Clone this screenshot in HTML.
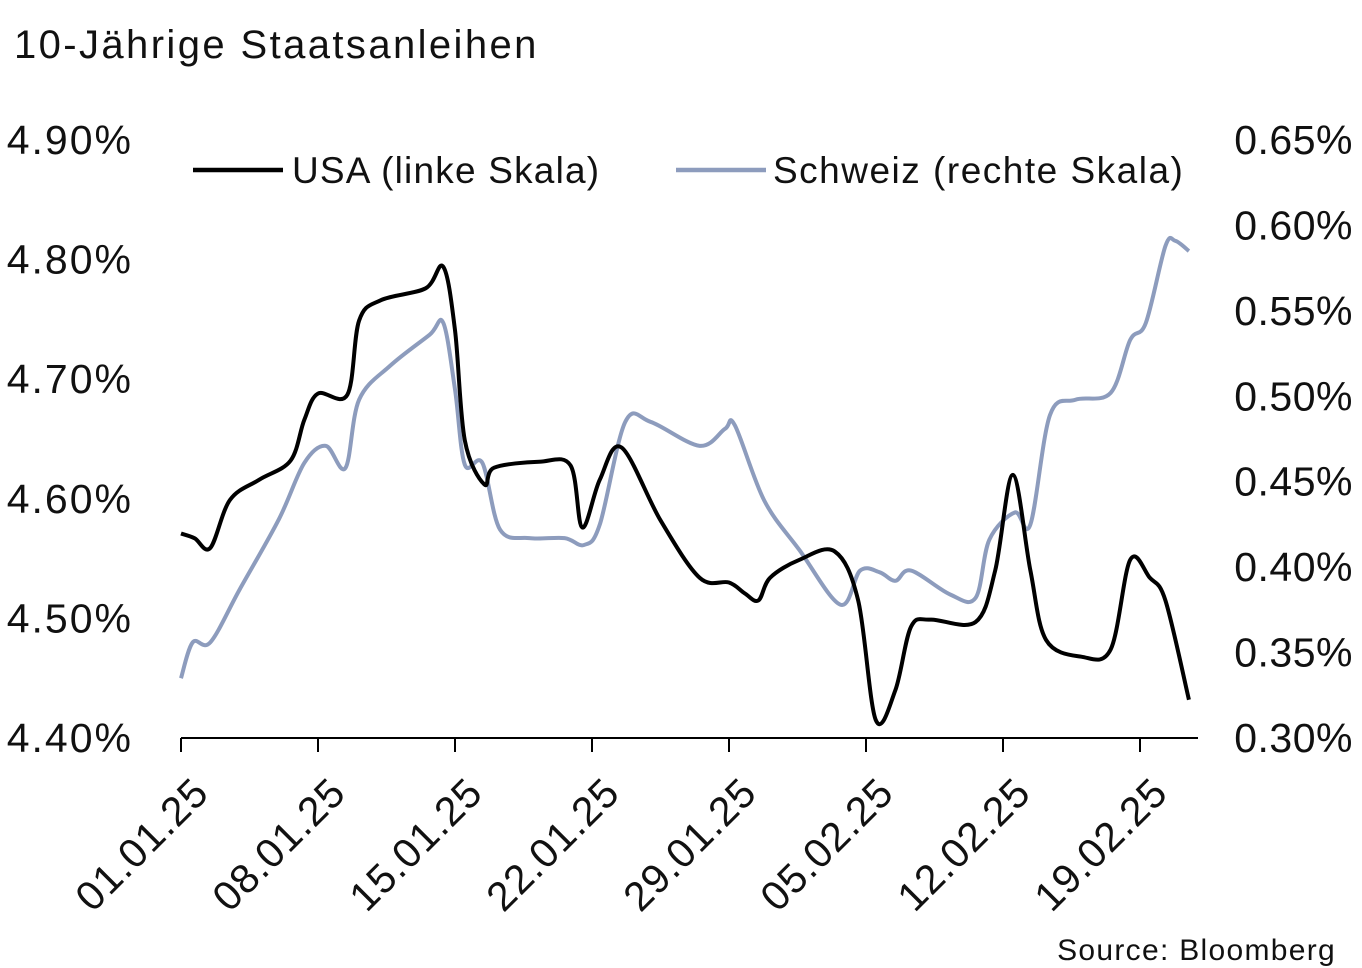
<!DOCTYPE html>
<html><head><meta charset="utf-8"><style>
html,body{margin:0;padding:0;background:#fff;}
svg{display:block;font-family:"Liberation Sans",sans-serif;}
</style></head><body>
<svg id="chart" width="1362" height="968" viewBox="0 0 1362 968">
<text x="14" y="58" font-size="40" letter-spacing="2.4" fill="#111">10-Jährige Staatsanleihen</text>
<g id="leftTicks"></g>
<g id="rightTicks"></g>
<g id="xAxis"></g>
<g>
<g>
<line x1="193" y1="170" x2="283" y2="170" stroke="#000" stroke-width="4.5"/>
<text x="292" y="183" font-size="37" letter-spacing="1.2" fill="#111">USA (linke Skala)</text></g>
<g>
<line x1="676" y1="170" x2="766" y2="170" stroke="#8d9cbd" stroke-width="4.5"/>
<text x="773" y="183" font-size="37" letter-spacing="1.5" fill="#111">Schweiz (rechte Skala)</text></g>
</g>
<g id="series"></g>
<text x="1336" y="960" font-size="30" letter-spacing="1.3" text-anchor="end" fill="#111">Source: Bloomberg</text>
</svg>
<script>
const leftTicks=[4.40,4.50,4.60,4.70,4.80,4.90];
const rightTicks=[0.30,0.35,0.40,0.45,0.50,0.55,0.60,0.65];
const xTickLabels=["01.01.25","08.01.25","15.01.25","22.01.25","29.01.25","05.02.25","12.02.25","19.02.25"];
const xTickDays=[0,7,14,21,28,35,42,49];
const usaDays=[0,0.7,1.5,2.5,4,5.6,6.3,7,8.5,9.1,10.2,12.5,13.4,14,14.5,15.5,16,18.3,19.9,20.5,21.4,22.5,24.5,26.5,28,28.8,29.5,30.1,31.6,33.4,34.6,35.5,36.5,37.3,38.3,40.6,41.6,42.5,43.4,44.2,46,47.5,48.5,49.5,50.3,51.5];
const usaValues=[4.571,4.567,4.559,4.599,4.616,4.632,4.666,4.688,4.687,4.749,4.766,4.776,4.794,4.741,4.649,4.612,4.626,4.631,4.628,4.576,4.616,4.643,4.582,4.534,4.53,4.521,4.515,4.534,4.549,4.556,4.515,4.415,4.44,4.493,4.499,4.497,4.54,4.62,4.54,4.482,4.468,4.474,4.549,4.534,4.515,4.432];
const chDays=[0,0.6,1.5,3,5,6.3,7.4,8.4,9.1,10.7,12.7,13.4,14,14.5,15.4,16.3,17.8,19.6,20.6,21.4,22.7,24,26.5,27.8,28.3,29.8,31.6,33.7,34.7,35.7,36.5,37.3,39.3,40.6,41.3,42.6,43.4,44.4,45.7,47.5,48.5,49.3,50.3,50.8,51.5];
const chValues=[0.335,0.356,0.356,0.387,0.428,0.461,0.471,0.458,0.498,0.518,0.536,0.543,0.504,0.46,0.461,0.422,0.417,0.417,0.413,0.425,0.485,0.485,0.471,0.481,0.483,0.439,0.41,0.378,0.398,0.397,0.392,0.398,0.384,0.382,0.416,0.432,0.425,0.489,0.498,0.502,0.533,0.543,0.588,0.591,0.585];

const NS="http://www.w3.org/2000/svg";
const x=d=>181+d*137/7;
const yL=v=>738-(v-4.40)/0.5*598;
const yR=v=>738-(v-0.30)/0.35*598;
function mk(t,a,p){const e=document.createElementNS(NS,t);for(const k in a)e.setAttribute(k,a[k]);p.appendChild(e);return e;}
const lt=document.getElementById('leftTicks');
leftTicks.forEach(v=>{const t=mk('text',{x:133,y:yL(v)+14,'font-size':41,'letter-spacing':2,'text-anchor':'end',fill:'#111'},lt);t.textContent=v.toFixed(2)+'%';

});
const rt=document.getElementById('rightTicks');
rightTicks.forEach(v=>{const t=mk('text',{x:1353,y:yR(v)+14,'font-size':41,'letter-spacing':0.5,'text-anchor':'end',fill:'#111'},rt);t.textContent=v.toFixed(2)+'%';

});
const xa=document.getElementById('xAxis');
mk('line',{x1:181,y1:738,x2:1198,y2:738,stroke:'#000','stroke-width':2},xa);
xTickDays.forEach((d,i)=>{mk('line',{x1:x(d),y1:738,x2:x(d),y2:752,stroke:'#000','stroke-width':2},xa);
const t=mk('text',{x:0,y:0,'font-size':41,'letter-spacing':1,'text-anchor':'end',fill:'#111',transform:`translate(${x(d)+30},${795}) rotate(-45)`},xa);t.textContent=xTickLabels[i];

});
function smooth(pts){let s=`M${pts[0][0]},${pts[0][1]}`;for(let i=0;i<pts.length-1;i++){const p0=pts[Math.max(0,i-1)],p1=pts[i],p2=pts[i+1],p3=pts[Math.min(pts.length-1,i+2)];
const c1=[p1[0]+(p2[0]-p0[0])/6,p1[1]+(p2[1]-p0[1])/6],c2=[p2[0]-(p3[0]-p1[0])/6,p2[1]-(p3[1]-p1[1])/6];
s+=` C${c1[0]},${c1[1]} ${c2[0]},${c2[1]} ${p2[0]},${p2[1]}`;}return s;}
const sg=document.getElementById('series');
const ch=mk('path',{d:smooth(chDays.map((d,i)=>[x(d),yR(chValues[i])])),fill:'none',stroke:'#8d9cbd','stroke-width':4},sg);


const us=mk('path',{d:smooth(usaDays.map((d,i)=>[x(d),yL(usaValues[i])])),fill:'none',stroke:'#000','stroke-width':4},sg);


</script>
</body></html>
